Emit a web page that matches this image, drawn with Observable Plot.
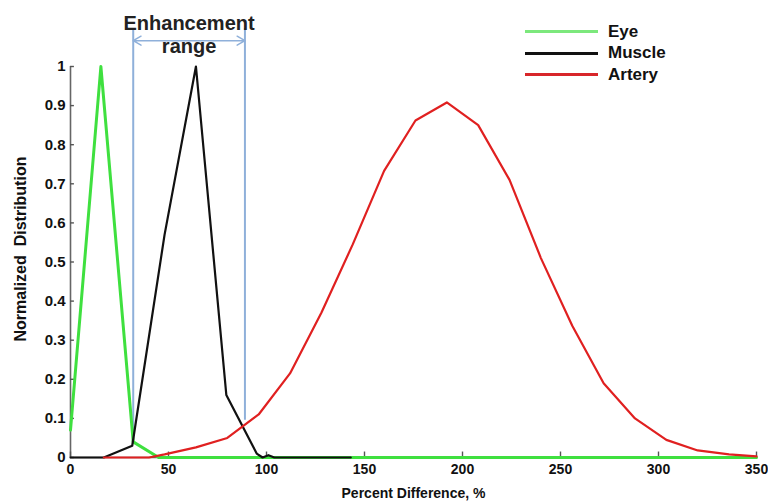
<!DOCTYPE html>
<html><head><meta charset="utf-8">
<script src="https://cdn.jsdelivr.net/npm/d3@7"></script>
<script src="https://cdn.jsdelivr.net/npm/@observablehq/plot@0.6"></script>
<style>
body{margin:0;background:#fff;}
#wrap{position:relative;width:768px;height:504px;font-family:"Liberation Sans",Arial,sans-serif;}
.legend{position:absolute;left:525px;top:21px;}
.row{display:flex;align-items:center;height:21.5px;}
.sw{width:73px;height:3px;margin-right:10px;}
.lab{font-weight:bold;font-size:17px;color:#111;}
</style></head><body><div id="wrap"></div>
<script>
// Series (x = percent difference, y = normalized distribution)
const eyeX = [0, 15.5, 32, 45, 64, 96, 128, 160, 192, 224, 256, 288, 320, 350];
const eyeY = [0.07, 1.0, 0.04, 0, 0, 0, 0, 0, 0, 0, 0, 0, 0, 0];
const muscleX = [0, 17, 31.5, 48, 64, 79.5, 95, 98, 101, 104, 143];
const muscleY = [0, 0, 0.03, 0.57, 1.0, 0.16, 0.01, 0, 0.006, 0, 0];
const arteryX = [17, 40, 48, 64, 80, 96, 112, 128, 144, 160, 176, 192, 208, 224, 240, 256, 272, 288, 304, 320, 336, 350];
const arteryY = [0, 0, 0.008, 0.026, 0.05, 0.11, 0.215, 0.37, 0.545, 0.733, 0.862, 0.908, 0.85, 0.71, 0.51, 0.337, 0.19, 0.10, 0.045, 0.018, 0.008, 0.003];
const seriesNames = ["Eye", "Muscle", "Artery"];
const seriesColors = ["#3fe03f", "#111111", "#e02020"];
const legendColors = ["#7ce87c", "#111111", "#d8262a"];
// Enhancement range bounds
const rangeX = [32, 89];
const rangeLabel = ["Enhancement", "range"];
// Axis ticks
const xTicks = [0, 50, 100, 150, 200, 250, 300, 350];
const yTicks = [0, 0.1, 0.2, 0.3, 0.4, 0.5, 0.6, 0.7, 0.8, 0.9, 1];
const xLabel = "Percent Difference, %";
const yLabel = "Normalized  Distribution";

const toRows = (xs, ys) => xs.map((x, i) => ({x, y: ys[i]}));
const eye = toRows(eyeX, eyeY);
const muscle = toRows(muscleX, muscleY);
const artery = toRows(arteryX, arteryY);
const mid = (rangeX[0] + rangeX[1]) / 2;
const blue = "#8fb0da";

const chart = Plot.plot({
  width: 768,
  height: 504,
  marginLeft: 70,
  marginRight: 12,
  marginTop: 66,
  marginBottom: 47,
  style: {fontFamily: "'Liberation Sans', Arial, sans-serif", fontSize: "14px", fontWeight: "bold", color: "#111", background: "#fff", overflow: "visible"},
  x: {domain: [0, 350], ticks: xTicks, tickSize: 0, tickPadding: 7, tickFormat: d => String(d), label: null},
  y: {domain: [0, 1], ticks: yTicks, tickSize: 0, tickPadding: 5, tickFormat: d => String(d), label: null},
  marks: [
    // axis lines and inward ticks
    Plot.ruleX([0], {y1: 0, y2: 1, stroke: "#666", strokeWidth: 1.6}),
    Plot.ruleY([0], {x1: 0, x2: 350, stroke: "#666", strokeWidth: 1.6}),
    Plot.ruleY(yTicks, {x1: 0, x2: 2, stroke: "#555", strokeWidth: 1.4}),
    Plot.ruleX(xTicks, {y1: 0, y2: 0.014, stroke: "#555", strokeWidth: 1.4}),
    // enhancement range annotation
    Plot.ruleX([rangeX[0]], {y1: 0.045, y2: 1.097, stroke: blue, strokeWidth: 2}),
    Plot.ruleX([rangeX[1]], {y1: 0.095, y2: 1.097, stroke: blue, strokeWidth: 2}),
    Plot.arrow([rangeX[0], rangeX[1]], {x1: mid, x2: d => d, y1: 1.066, y2: 1.066, stroke: blue, strokeWidth: 1.5, headLength: 9}),
    Plot.text([rangeLabel[0]], {x: mid, y: 1.109, text: d => d, fontSize: 20, fontWeight: "bold", fill: "#222"}),
    Plot.text([rangeLabel[1]], {x: mid, y: 1.05, text: d => d, fontSize: 20, fontWeight: "bold", fill: "#222"}),
    // series
    Plot.line(eye, {x: "x", y: "y", stroke: seriesColors[0], strokeWidth: 3}),
    Plot.line(muscle, {x: "x", y: "y", stroke: seriesColors[1], strokeWidth: 2.2}),
    Plot.line(artery, {x: "x", y: "y", stroke: seriesColors[2], strokeWidth: 2.2}),
    // axis titles
    Plot.text([xLabel], {frameAnchor: "bottom", dy: 40, text: d => d, fontSize: 14, fontWeight: "bold"}),
    Plot.text([yLabel], {frameAnchor: "left", textAnchor: "middle", dx: -50, dy: -13, rotate: -90, text: d => d, fontSize: 16, fontWeight: "bold"})
  ]
});
// slightly larger y tick labels, as in the reference
chart.querySelectorAll('[aria-label^="y-axis"] text').forEach(t => t.setAttribute("font-size", "15"));
const wrap = document.getElementById("wrap");
wrap.appendChild(chart);
const leg = document.createElement("div");
leg.className = "legend";
seriesNames.forEach((n, i) => {
  const r = document.createElement("div");
  r.className = "row";
  const s = document.createElement("div");
  s.className = "sw";
  s.style.background = legendColors[i];
  const t = document.createElement("span");
  t.className = "lab";
  t.textContent = n;
  r.appendChild(s); r.appendChild(t);
  leg.appendChild(r);
});
wrap.appendChild(leg);
</script></body></html>
